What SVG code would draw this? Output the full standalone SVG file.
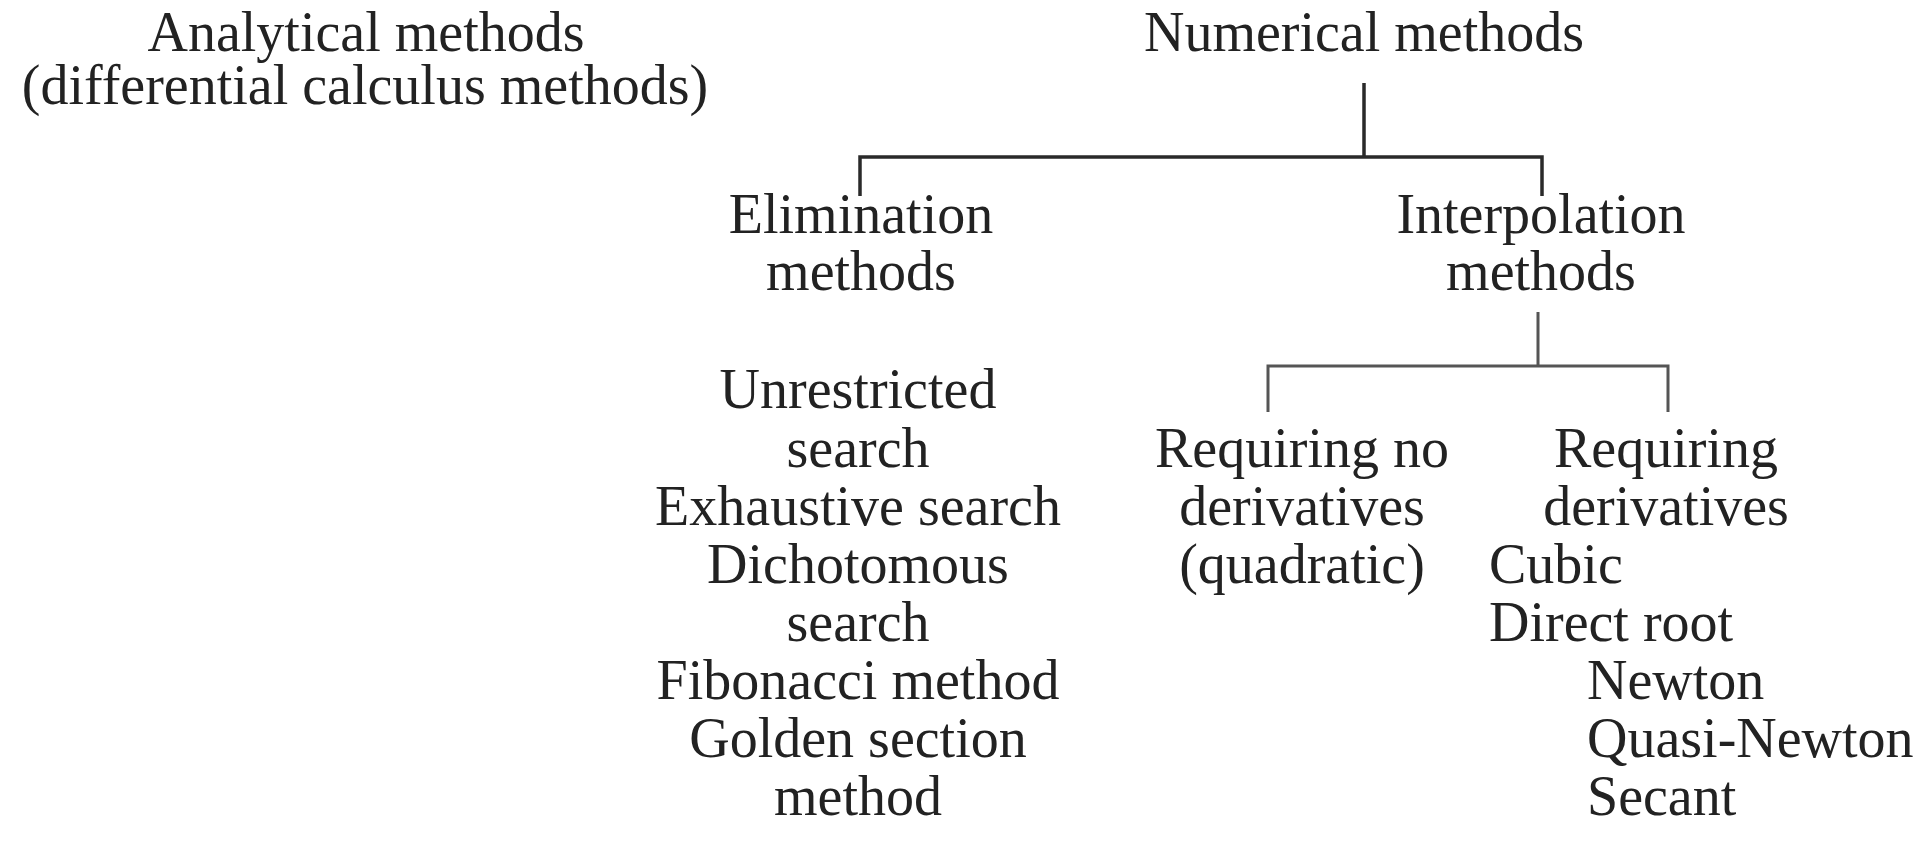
<svg xmlns="http://www.w3.org/2000/svg" width="1922" height="842" viewBox="0 0 1922 842">
<style>
text{font-family:"Liberation Serif","Times New Roman",serif;font-size:56px;fill:#222}
.c{text-anchor:middle}
.l{text-anchor:start}
.ln{fill:none;stroke:#2a2a2a;stroke-width:3.5}
.ln2{fill:none;stroke:#555;stroke-width:3}
</style>
<rect width="1922" height="842" fill="#fff"/>
<g id="connectors">
<path class="ln" d="M1364 83V157M860 196V157H1542V196"/>
<path class="ln2" d="M1538 312V366M1268 412V366H1668V412"/>
</g>
<g id="analytical">
<text class="c" x="366" y="51">Analytical methods</text>
<text class="c" x="365" y="104">(differential calculus methods)</text>
</g>
<g id="numerical">
<text class="c" x="1364" y="51">Numerical methods</text>
</g>
<g id="elimination">
<text class="c" x="861" y="233">Elimination</text>
<text class="c" x="861" y="290">methods</text>
</g>
<g id="interpolation">
<text class="c" x="1541" y="233">Interpolation</text>
<text class="c" x="1541" y="290">methods</text>
</g>
<g id="elimination-list">
<text class="c" x="858" y="408">Unrestricted</text>
<text class="c" x="858" y="467">search</text>
<text class="c" x="858" y="525">Exhaustive search</text>
<text class="c" x="858" y="583">Dichotomous</text>
<text class="c" x="858" y="641">search</text>
<text class="c" x="858" y="699">Fibonacci method</text>
<text class="c" x="858" y="757">Golden section</text>
<text class="c" x="858" y="815">method</text>
</g>
<g id="no-derivatives">
<text class="c" x="1302" y="467">Requiring no</text>
<text class="c" x="1302" y="525">derivatives</text>
<text class="c" x="1302" y="583">(quadratic)</text>
</g>
<g id="derivatives">
<text class="c" x="1666" y="467">Requiring</text>
<text class="c" x="1666" y="525">derivatives</text>
<text class="l" x="1489" y="583">Cubic</text>
<text class="l" x="1489" y="641">Direct root</text>
<text class="l" x="1587" y="699">Newton</text>
<text class="l" x="1587" y="757">Quasi-Newton</text>
<text class="l" x="1587" y="815">Secant</text>
</g>
</svg>
